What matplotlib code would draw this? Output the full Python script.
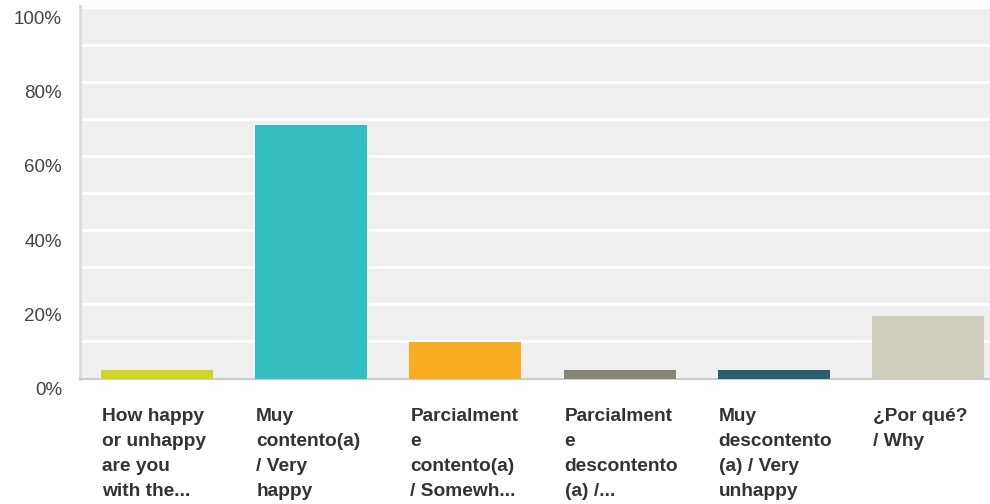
import numpy as np
import matplotlib.pyplot as plt
import matplotlib.transforms as mtransforms

# survey answers (percent of respondents)
categories = [
    "How happy\nor unhappy\nare you\nwith the...",
    "Muy\ncontento(a)\n/ Very\nhappy",
    "Parcialment\ne\ncontento(a)\n/ Somewh...",
    "Parcialment\ne\ndescontento\n(a) /...",
    "Muy\ndescontento\n(a) / Very\nunhappy",
    "¿Por qué?\n/ Why",
]
values = [2.3, 68.3, 9.9, 2.3, 2.3, 16.8]
colors = ["#cfd425", "#35bdbf", "#f8ae20", "#878676", "#2c5f6b", "#cfcdbd"]
ytick_values = [0, 20, 40, 60, 80, 100]
ytick_labels = ["0%", "20%", "40%", "60%", "80%", "100%"]

plt.rcParams['font.family'] = ['Liberation Sans', 'DejaVu Sans']

W, H = 990, 504
fig = plt.figure(figsize=(W / 100, H / 100), dpi=100)
# plot area runs a bit past the right edge, like the original crop
left, right, top, bottom = 80, 1005, 6, 378.5
ax = fig.add_axes([left / W, (H - bottom) / H, (right - left) / W, (bottom - top) / H])
ax.set_facecolor("#efefef")

x = np.arange(len(categories))
bar_w = 112 / 154.2
ax.bar(x, values, width=bar_w, color=colors, zorder=3)

ax.set_xlim(-0.5, len(categories) - 0.5)
ax.set_ylim(0, 100.4)

# white grid every 10%
for g in range(10, 101, 10):
    ax.axhline(g, color="white", lw=2, zorder=1)

ax.set_yticks(ytick_values)
ax.set_yticklabels(ytick_labels, fontsize=13.5, color="#444444")
ax.tick_params(axis="y", length=0, pad=13)
offset = mtransforms.ScaledTranslation(0, -10 / 100, fig.dpi_scale_trans)
for lbl in ax.get_yticklabels():
    lbl.set_transform(lbl.get_transform() + offset)

ax.set_xticks([])

for s in ["top", "right"]:
    ax.spines[s].set_visible(False)
ax.spines["left"].set_color("#dcdcdc")
ax.spines["left"].set_linewidth(2.2)
ax.spines["bottom"].set_color("#cccccc")
ax.spines["bottom"].set_linewidth(1.5)

# category labels, left aligned under each bar
trans = mtransforms.blended_transform_factory(ax.transData, ax.transAxes)
for i, c in enumerate(categories):
    ax.text(i - bar_w / 2 + 0.006, -0.080, c, transform=trans, ha="left", va="top",
            fontsize=13.8, fontweight="bold", color="#333333", linespacing=1.6)

fig.savefig("out.png", dpi=100)
